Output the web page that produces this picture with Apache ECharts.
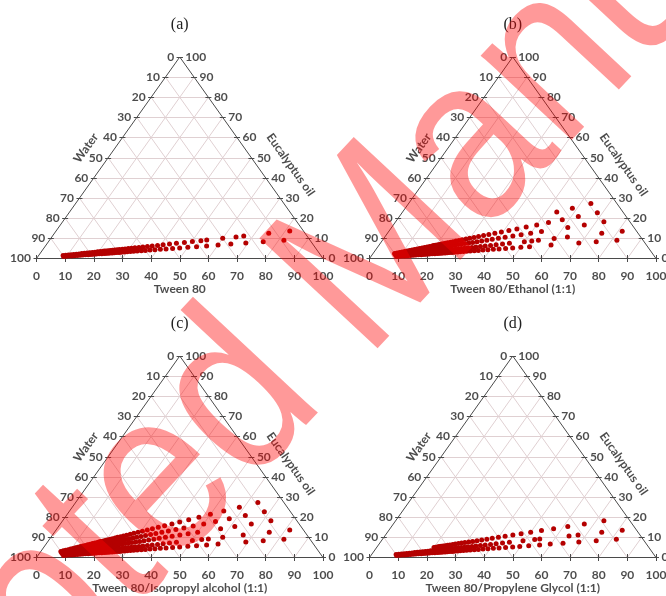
<!DOCTYPE html>
<html>
<head>
<meta charset="utf-8">
<script src="https://cdn.jsdelivr.net/npm/echarts/dist/echarts.min.js"></script>
<style>
  html, body { margin: 0; padding: 0; background: #ffffff; }
  #chart { width: 666px; height: 596px; }
</style>
</head>
<body>
<div id="chart"></div>
<script>
// Axis tick values shared by the three sides of every ternary diagram (%)
const tickValues = [0, 10, 20, 30, 40, 50, 60, 70, 80, 90, 100];

// Oil share (% of oil + surfactant mix) of each dilution line
const lineOil = [10, 14.3, 20, 25, 30];

// Water content (%) of the closely spaced titration points near the water corner
const waterDense = [47.4, 50.0, 52.4, 54.5, 56.5, 58.3, 60.0, 61.5, 63.0, 64.3,
  65.5, 66.7, 67.7, 68.8, 69.7, 70.6, 71.4, 72.2, 73.0, 73.7, 74.4, 75.0,
  76.0, 77.0, 78.0, 79.0, 80.0, 81.0, 82.0, 83.0, 84.0, 85.0, 86.0, 87.0,
  88.0, 89.0, 90.0];

// (a) Tween 80: water (%) of the separate points on each dilution line
const waterA = [
  [9.1, 16.7, 23.1, 28.6, 33.3, 37.5, 41.2, 44.4],
  [4.8, 12.7, 22.1, 25.0, 30.0, 36.0, 38.2, 41.4, 44.4],
  [], [], []
];
// highest water (%) reached by the dense run on each line (0 = none)
const denseEndA = [90, 90, 0, 0, 0];

// (b) Tween 80/Ethanol (1:1)
const waterB = [
  [9.1, 16.7, 23.1, 33.3, 41.2, 44.4],
  [5.0, 12.7, 25.6, 30.6, 36.5, 39.0, 41.8],
  [9.1, 16.7, 23.1, 33.3, 37.5, 41.2, 44.4],
  [9.1, 16.7, 23.1, 28.6, 33.3, 37.5, 41.2, 44.4],
  [9.1, 16.7, 23.1]
];
const denseEndB = [90, 90, 90, 90, 0];

// (c) Tween 80/Isopropyl alcohol (1:1)
const waterC = [
  [9.1, 16.7, 23.1, 33.3, 37.5, 41.2, 44.4],
  [4.8, 12.5, 22.3, 30.0, 35.4, 37.9, 41.4],
  [9.1, 16.7, 23.1, 28.6, 37.5, 41.2, 44.4],
  [9.1, 16.7, 23.1, 28.6, 33.3, 37.5, 41.2, 44.4],
  [9.1, 16.7, 23.1, 28.6, 33.3, 37.5, 41.2, 44.4]
];
const denseEndC = [90, 90, 90, 90, 90];

// (d) Tween 80/Propylene Glycol (1:1)
const waterD = [
  [9.3, 16.7, 23.1, 28.9, 33.6, 37.5, 41.5, 44.8],
  [5.0, 12.7, 21.6, 25.0, 36.0, 37.9, 42.3],
  [9.1, 16.7, 23.1, 28.6, 33.3, 37.5, 41.2, 44.4],
  [], []
];
const denseEndD = [90, 90, 75, 0, 0];

// Panel layout (pixels): left end and baseline of each triangle
const SIDE = 286.5, HEIGHT = 201.5;
const panels = [
  { tag: '(a)', axis: 'Tween 80', water: waterA, denseEnd: denseEndA, x0: 36.5, base: 258.5 },
  { tag: '(b)', axis: 'Tween 80/Ethanol (1:1)', water: waterB, denseEnd: denseEndB, x0: 369.5, base: 258.5 },
  { tag: '(c)', axis: 'Tween 80/Isopropyl alcohol (1:1)', water: waterC, denseEnd: denseEndC, x0: 36.5, base: 557.5 },
  { tag: '(d)', axis: 'Tween 80/Propylene Glycol (1:1)', water: waterD, denseEnd: denseEndD, x0: 369.5, base: 557.5 }
];

// ternary (Smix %, oil %) -> plane coordinates of the grid (x 0..100, y 0..100)
function tern(smix, oil) { return [smix + oil / 2, oil]; }

const LABEL_FONT = 'Lato';
const grids = [], xAxes = [], yAxes = [], series = [], graphics = [];

panels.forEach(function (p, i) {
  grids.push({ left: p.x0, top: p.base - HEIGHT, width: SIDE, height: HEIGHT });
  xAxes.push({ gridIndex: i, type: 'value', min: 0, max: 100, show: false });
  yAxes.push({ gridIndex: i, type: 'value', min: 0, max: 100, show: false });

  // light grid lines every 10 %
  const gridSegs = [];
  tickValues.slice(1, 10).forEach(function (v) {
    gridSegs.push({ coords: [tern(0, v), tern(100 - v, v)] });          // constant oil
    gridSegs.push({ coords: [tern(v, 0), tern(v, 100 - v)] });          // constant Smix
    gridSegs.push({ coords: [tern(100 - v, 0), tern(0, 100 - v)] });    // constant water
  });
  series.push({
    type: 'lines', coordinateSystem: 'cartesian2d', xAxisIndex: i, yAxisIndex: i,
    polyline: false, silent: true, animation: false, clip: false, z: 1,
    lineStyle: { color: '#e0d0d2', width: 1, opacity: 1 },
    data: gridSegs
  });

  // triangle outline and tick marks
  const dx = 3 / SIDE * 100, dy = 3.5 / HEIGHT * 100;
  const frame = [
    { coords: [tern(0, 0), tern(100, 0)] },
    { coords: [tern(100, 0), tern(0, 100)] },
    { coords: [tern(0, 100), tern(0, 0)] }
  ];
  tickValues.forEach(function (v) {
    const b = tern(v, 0);
    frame.push({ coords: [[b[0], -dy], [b[0], dy]] });
    const l = tern(0, 100 - v);
    frame.push({ coords: [[l[0] - dx, l[1]], [l[0] + dx, l[1]]] });
    const r = tern(100 - v, v);
    frame.push({ coords: [[r[0] - dx, r[1]], [r[0] + dx, r[1]]] });
  });
  series.push({
    type: 'lines', coordinateSystem: 'cartesian2d', xAxisIndex: i, yAxisIndex: i,
    polyline: false, silent: true, animation: false, clip: false, z: 2,
    lineStyle: { color: '#4a4a4a', width: 1, opacity: 1 },
    data: frame
  });

  // composition points along each oil:Smix dilution line
  const pts = [];
  lineOil.forEach(function (r, j) {
    const ws = p.water[j].concat(waterDense.filter(function (w) { return w <= p.denseEnd[j]; }));
    ws.forEach(function (w) {
      const s = (100 - w) / 100;
      pts.push(tern(s * (100 - r), s * r));
    });
  });
  series.push({
    type: 'scatter', xAxisIndex: i, yAxisIndex: i, clip: false, silent: true,
    animation: false, z: 5, symbol: 'circle', symbolSize: 5,
    itemStyle: { color: '#b40000', opacity: 1 },
    data: pts
  });

  const tickLabel = { show: true, fontFamily: LABEL_FONT, fontWeight: 'bold', fontSize: 12, color: '#1e1e1e', formatter: '{b}' };
  const hidden = { color: 'rgba(0,0,0,0)' };
  series.push({
    type: 'scatter', xAxisIndex: i, yAxisIndex: i, clip: false, silent: true, animation: false, z: 6,
    symbolSize: 1, itemStyle: hidden,
    label: Object.assign({ position: 'bottom', distance: 11 }, tickLabel),
    data: tickValues.map(function (v) { return { name: String(v), value: tern(v, 0) }; })
  });
  series.push({
    type: 'scatter', xAxisIndex: i, yAxisIndex: i, clip: false, silent: true, animation: false, z: 6,
    symbolSize: 1, itemStyle: hidden,
    label: Object.assign({ position: 'left', distance: 5 }, tickLabel),
    data: tickValues.map(function (v) { return { name: String(v), value: tern(0, 100 - v) }; })
  });
  series.push({
    type: 'scatter', xAxisIndex: i, yAxisIndex: i, clip: false, silent: true, animation: false, z: 6,
    symbolSize: 1, itemStyle: hidden,
    label: Object.assign({ position: 'right', distance: 5 }, tickLabel),
    data: tickValues.map(function (v) { return { name: String(v), value: tern(100 - v, v) }; })
  });

  // axis names
  const nameStyle = { fontFamily: LABEL_FONT, fontWeight: 'bold', fontSize: 12, color: '#1e1e1e' };
  const angle = Math.atan2(HEIGHT, SIDE / 2) * 180 / Math.PI;
  series.push({
    type: 'scatter', xAxisIndex: i, yAxisIndex: i, clip: false, silent: true, animation: false, z: 6,
    symbolSize: 1, itemStyle: hidden,
    data: [
      { value: [50, -15.1], label: Object.assign({ show: true, position: 'inside', formatter: p.axis }, nameStyle) },
      { value: [17.3, 54.8], label: Object.assign({ show: true, position: 'inside', rotate: angle, formatter: 'Water' }, nameStyle) },
      { value: [88.7, 46.5], label: Object.assign({ show: true, position: 'inside', rotate: -angle, formatter: 'Eucalyptus oil' }, nameStyle) }
    ]
  });

  graphics.push({
    type: 'text', x: p.x0 + SIDE / 2, y: p.base - 233.5, silent: true,
    style: { text: p.tag, font: '16px "Liberation Serif"', fill: '#222222',
      textAlign: 'center', textVerticalAlign: 'middle', align: 'center', verticalAlign: 'middle' }
  });
});

// diagonal stamp across the figure
graphics.push({
  type: 'text', x: 350, y: 283, rotation: 47 * Math.PI / 180, scaleX: 0.88, scaleY: 1,
  silent: true, z: 100,
  style: { text: 'Accepted Manuscript', font: '235px "Liberation Sans"', fill: 'rgba(255,0,0,0.4)',
    textAlign: 'center', textVerticalAlign: 'middle', align: 'center', verticalAlign: 'middle' }
});

const chart = echarts.init(document.getElementById('chart'), null, { renderer: 'canvas' });
chart.setOption({
  animation: false,
  grid: grids,
  xAxis: xAxes,
  yAxis: yAxes,
  series: series,
  graphic: graphics
});
</script>
</body>
</html>
